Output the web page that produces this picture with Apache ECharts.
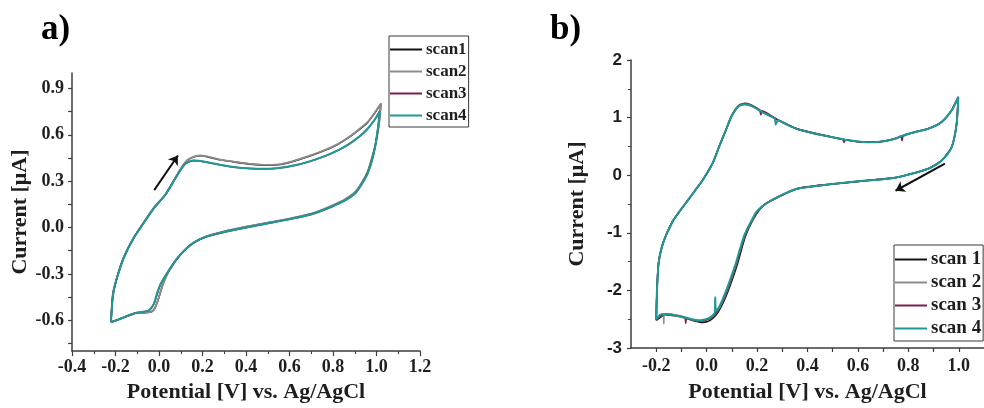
<!DOCTYPE html>
<html>
<head>
<meta charset="utf-8">
<script src="https://cdn.jsdelivr.net/npm/echarts@6/dist/echarts.min.js"></script>
<style>
  html, body { margin: 0; padding: 0; background: #fff; }
  #chart { width: 984px; height: 408px; }
</style>
</head>
<body>
<div id="chart"></div>
<script>
// ---- Panel a: cyclic voltammograms, [potential V, current µA] ----
const aScan1 = [
  [-0.221,-0.612],[-0.212,-0.43],[-0.193,-0.323],[-0.163,-0.196],[-0.117,-0.068],[-0.071,0.03],
  [-0.025,0.124],[0.029,0.211],[0.083,0.339],[0.11,0.4],[0.13,0.434],[0.155,0.455],[0.19,0.464],
  [0.23,0.455],[0.282,0.438],[0.35,0.423],[0.42,0.41],[0.5,0.403],[0.56,0.408],[0.635,0.436],
  [0.7,0.466],[0.76,0.498],[0.819,0.536],[0.87,0.58],[0.91,0.622],[0.957,0.677],[0.99,0.737],[1.02,0.8],
  [1.015,0.72],[1.007,0.63],[0.994,0.53],[0.979,0.45],[0.959,0.36],[0.93,0.283],[0.9,0.226],
  [0.85,0.176],[0.8,0.143],[0.75,0.114],[0.7,0.089],[0.6,0.057],[0.5,0.031],[0.4,0.004],[0.3,-0.026],
  [0.221,-0.056],[0.16,-0.096],[0.129,-0.131],[0.09,-0.19],[0.06,-0.25],[0.035,-0.31],[0.015,-0.38],
  [0.0,-0.45],[-0.015,-0.51],[-0.03,-0.542],[-0.05,-0.55],[-0.101,-0.552],[-0.163,-0.583],[-0.221,-0.612]
];
const aScan2 = [
  [-0.221,-0.612],[-0.212,-0.43],[-0.193,-0.323],[-0.163,-0.195],[-0.117,-0.067],[-0.071,0.03],
  [-0.025,0.126],[0.029,0.212],[0.083,0.34],[0.11,0.401],[0.13,0.435],[0.155,0.456],[0.19,0.466],
  [0.23,0.457],[0.282,0.44],[0.35,0.425],[0.42,0.412],[0.5,0.405],[0.56,0.41],[0.635,0.438],
  [0.7,0.468],[0.76,0.5],[0.819,0.538],[0.87,0.582],[0.91,0.625],[0.957,0.68],[0.99,0.74],[1.021,0.804],
  [1.016,0.72],[1.008,0.63],[0.995,0.53],[0.98,0.45],[0.96,0.36],[0.93,0.285],[0.9,0.228],
  [0.85,0.178],[0.8,0.145],[0.75,0.115],[0.7,0.09],[0.6,0.058],[0.5,0.032],[0.4,0.005],[0.3,-0.025],
  [0.221,-0.055],[0.16,-0.095],[0.129,-0.13],[0.09,-0.19],[0.06,-0.25],[0.035,-0.31],[0.015,-0.38],
  [0.0,-0.45],[-0.015,-0.51],[-0.03,-0.543],[-0.05,-0.55],[-0.101,-0.552],[-0.163,-0.584],[-0.221,-0.612]
];
const aScan3 = [
  [-0.221,-0.614],[-0.212,-0.444],[-0.193,-0.325],[-0.163,-0.2],[-0.117,-0.07],[-0.071,0.028],
  [-0.025,0.122],[0.029,0.211],[0.083,0.336],[0.121,0.411],[0.159,0.433],[0.205,0.426],[0.282,0.405],
  [0.359,0.388],[0.451,0.379],[0.543,0.383],[0.635,0.405],[0.727,0.443],[0.819,0.496],[0.896,0.561],
  [0.957,0.635],[0.998,0.711],[1.014,0.752],
  [1.006,0.636],[0.985,0.465],[0.955,0.336],[0.9,0.217],[0.8,0.137],[0.7,0.085],[0.6,0.053],
  [0.5,0.026],[0.4,-0.001],[0.3,-0.03],[0.22,-0.059],[0.16,-0.1],[0.1,-0.173],[0.052,-0.263],
  [0.006,-0.371],[-0.022,-0.49],[-0.048,-0.538],[-0.101,-0.551],[-0.163,-0.582],[-0.221,-0.614]
];
const aScan4 = [
  [-0.221,-0.614],[-0.217,-0.53],[-0.212,-0.445],[-0.204,-0.38],[-0.193,-0.325],[-0.178,-0.26],
  [-0.163,-0.2],[-0.14,-0.13],[-0.117,-0.07],[-0.094,-0.02],[-0.071,0.028],[-0.048,0.076],
  [-0.025,0.122],[0.0,0.165],[0.029,0.212],[0.056,0.272],[0.083,0.337],[0.105,0.386],[0.121,0.412],
  [0.14,0.428],[0.159,0.434],[0.18,0.432],[0.205,0.427],[0.245,0.416],[0.282,0.406],[0.32,0.397],
  [0.359,0.389],[0.405,0.383],[0.451,0.38],[0.497,0.38],[0.543,0.384],[0.59,0.393],[0.635,0.406],
  [0.68,0.423],[0.727,0.444],[0.773,0.468],[0.819,0.497],[0.86,0.528],[0.896,0.562],[0.93,0.598],
  [0.957,0.636],[0.98,0.675],[0.998,0.712],[1.015,0.754],
  [1.012,0.7],[1.006,0.637],[0.997,0.55],[0.985,0.466],[0.972,0.4],[0.955,0.337],[0.93,0.275],
  [0.9,0.218],[0.85,0.17],[0.8,0.138],[0.75,0.11],[0.7,0.086],[0.65,0.068],[0.6,0.054],[0.55,0.04],
  [0.5,0.027],[0.45,0.013],[0.4,0.0],[0.35,-0.014],[0.3,-0.029],[0.25,-0.046],[0.22,-0.058],
  [0.19,-0.075],[0.16,-0.099],[0.129,-0.133],[0.1,-0.172],[0.075,-0.215],[0.052,-0.262],[0.03,-0.312],
  [0.006,-0.37],[-0.01,-0.43],[-0.022,-0.49],[-0.035,-0.522],[-0.048,-0.538],[-0.075,-0.546],
  [-0.101,-0.551],[-0.13,-0.563],[-0.163,-0.582],[-0.19,-0.598],[-0.221,-0.614]
];
const aArrow = [[-0.022, 0.242], [0.087, 0.466]];

// ---- Panel b ----
const bScan1 = [
  [-0.2,-2.52],[-0.197,-2.0],[-0.191,-1.54],[-0.178,-1.25],[-0.158,-1.01],[-0.132,-0.78],[-0.094,-0.55],
  [-0.055,-0.32],[-0.016,-0.085],[0.023,0.2],[0.049,0.49],[0.076,0.78],[0.101,1.05],[0.127,1.21],
  [0.154,1.25],[0.179,1.215],[0.218,1.11],[0.283,0.96],[0.361,0.8],[0.491,0.667],[0.621,0.574],
  [0.686,0.58],[0.751,0.64],[0.816,0.738],[0.881,0.812],[0.933,0.93],[0.972,1.13],[0.998,1.36],
  [0.991,0.88],[0.972,0.49],[0.933,0.26],[0.881,0.115],[0.816,0.028],[0.751,-0.042],[0.621,-0.1],
  [0.491,-0.158],[0.361,-0.234],[0.257,-0.44],[0.218,-0.555],[0.183,-0.78],[0.153,-1.07],[0.122,-1.54],
  [0.096,-1.88],[0.07,-2.17],[0.045,-2.38],[0.025,-2.48],[0.004,-2.54],[-0.022,-2.555],[-0.048,-2.53],
  [-0.086,-2.48],[-0.125,-2.44],[-0.165,-2.42],[-0.2,-2.52]
];
const bScan2 = [
  [-0.2,-2.5],[-0.197,-2.0],[-0.191,-1.54],[-0.178,-1.25],[-0.158,-1.01],[-0.132,-0.78],[-0.094,-0.55],
  [-0.055,-0.32],[-0.016,-0.086],[0.023,0.2],[0.049,0.49],[0.076,0.78],[0.101,1.045],[0.127,1.205],
  [0.154,1.24],[0.179,1.21],[0.218,1.105],[0.283,0.958],[0.361,0.8],[0.491,0.667],[0.621,0.574],
  [0.686,0.58],[0.751,0.638],[0.816,0.737],[0.881,0.81],[0.933,0.928],[0.972,1.13],[0.998,1.35],
  [0.991,0.88],[0.972,0.49],[0.933,0.26],[0.881,0.116],[0.816,0.029],[0.751,-0.04],[0.621,-0.099],
  [0.491,-0.157],[0.361,-0.233],[0.257,-0.437],[0.218,-0.552],[0.181,-0.78],[0.15,-1.07],[0.118,-1.54],
  [0.092,-1.88],[0.066,-2.17],[0.041,-2.37],[0.022,-2.46],[0.004,-2.51],[-0.028,-2.53],[-0.067,-2.5],
  [-0.106,-2.46],[-0.145,-2.42],[-0.168,-2.41],[-0.17,-2.58],[-0.172,-2.42],[-0.2,-2.5]
];
const bScan3 = [
  [-0.2,-2.5],[-0.197,-2.0],[-0.191,-1.54],[-0.178,-1.25],[-0.158,-1.01],[-0.132,-0.78],[-0.094,-0.55],
  [-0.055,-0.32],[-0.016,-0.087],[0.023,0.2],[0.049,0.49],[0.076,0.78],[0.101,1.04],[0.127,1.2],
  [0.154,1.235],[0.179,1.205],[0.21,1.13],[0.215,1.05],[0.22,1.12],[0.283,0.957],[0.361,0.8],
  [0.491,0.667],[0.54,0.62],[0.545,0.57],[0.55,0.615],[0.621,0.574],[0.686,0.58],[0.751,0.638],
  [0.77,0.68],[0.775,0.6],[0.78,0.69],[0.816,0.736],[0.881,0.81],[0.933,0.927],[0.972,1.13],[0.998,1.35],
  [0.991,0.88],[0.972,0.49],[0.933,0.26],[0.881,0.116],[0.816,0.029],[0.751,-0.04],[0.621,-0.098],
  [0.491,-0.157],[0.361,-0.232],[0.257,-0.435],[0.218,-0.551],[0.18,-0.78],[0.149,-1.07],[0.117,-1.54],
  [0.09,-1.88],[0.064,-2.17],[0.039,-2.37],[0.02,-2.46],[0.004,-2.5],[-0.028,-2.53],[-0.067,-2.5],
  [-0.08,-2.48],[-0.083,-2.57],[-0.086,-2.47],[-0.125,-2.43],[-0.165,-2.41],[-0.2,-2.5]
];
const bScan4 = [
  [-0.2,-2.51],[-0.199,-2.25],[-0.197,-2.0],[-0.194,-1.75],[-0.191,-1.54],[-0.185,-1.38],[-0.178,-1.25],
  [-0.168,-1.12],[-0.158,-1.01],[-0.145,-0.9],[-0.132,-0.78],[-0.113,-0.66],[-0.094,-0.55],[-0.075,-0.44],
  [-0.055,-0.32],[-0.035,-0.2],[-0.016,-0.087],[0.003,0.05],[0.023,0.2],[0.036,0.34],[0.049,0.49],
  [0.062,0.635],[0.076,0.78],[0.088,0.92],[0.101,1.04],[0.114,1.13],[0.127,1.195],[0.14,1.222],
  [0.154,1.228],[0.166,1.22],[0.179,1.198],[0.198,1.155],[0.218,1.1],[0.25,1.03],[0.27,0.985],
  [0.274,0.88],[0.283,0.955],[0.32,0.875],[0.361,0.8],[0.426,0.725],[0.491,0.667],[0.556,0.612],
  [0.621,0.576],[0.65,0.57],[0.686,0.58],[0.72,0.603],[0.751,0.638],[0.78,0.69],[0.816,0.736],
  [0.85,0.772],[0.881,0.81],[0.91,0.86],[0.933,0.927],[0.955,1.03],[0.972,1.13],[0.986,1.24],[0.998,1.36],
  [0.996,1.12],[0.991,0.88],[0.983,0.67],[0.972,0.49],[0.955,0.36],[0.933,0.26],[0.91,0.18],[0.881,0.116],
  [0.85,0.068],[0.816,0.029],[0.785,-0.005],[0.751,-0.04],[0.7,-0.07],[0.621,-0.098],[0.556,-0.125],
  [0.491,-0.157],[0.426,-0.19],[0.361,-0.232],[0.309,-0.32],[0.257,-0.435],[0.218,-0.55],[0.195,-0.65],
  [0.179,-0.78],[0.162,-0.92],[0.147,-1.07],[0.131,-1.3],[0.115,-1.54],[0.1,-1.73],[0.088,-1.88],
  [0.075,-2.03],[0.062,-2.17],[0.05,-2.29],[0.037,-2.36],[0.034,-2.12],[0.032,-2.39],[0.02,-2.45],
  [0.004,-2.49],[-0.012,-2.51],[-0.028,-2.52],[-0.048,-2.51],[-0.067,-2.49],[-0.086,-2.47],[-0.106,-2.45],
  [-0.125,-2.43],[-0.145,-2.41],[-0.165,-2.41],[-0.184,-2.42],[-0.2,-2.51]
];
const bArrow = [[0.945, 0.2], [0.749, -0.27]];

// ---- Axis ticks and labels ----
const aXLabels = [-0.4, -0.2, 0.0, 0.2, 0.4, 0.6, 0.8, 1.0, 1.2];
const aYLabels = [-0.6, -0.3, 0.0, 0.3, 0.6, 0.9];
const aYTicks = [-0.75, -0.6, -0.45, -0.3, -0.15, 0.0, 0.15, 0.3, 0.45, 0.6, 0.75, 0.9];
const bXLabels = [-0.2, 0.0, 0.2, 0.4, 0.6, 0.8, 1.0];
const bXTicks = [-0.2, -0.1, 0.0, 0.1, 0.2, 0.3, 0.4, 0.5, 0.6, 0.7, 0.8, 0.9, 1.0];
const bYLabels = [-3, -2, -1, 0, 1, 2];

const aNames = ['scan1', 'scan2', 'scan3', 'scan4'];
const bNames = ['scan 1', 'scan 2', 'scan 3', 'scan 4'];
const scanColors = ['#111111', '#8c8c8c', '#7a1d4c', '#1f9896'];

const SERIF = "'Liberation Serif', 'Times New Roman', serif";
const SANS = "'Liberation Sans', Arial, sans-serif";
const AXIS_COLOR = '#3c3c3c';
const TEXT_COLOR = '#1e1e1e';

function axisBase(extra) {
  return Object.assign({
    type: 'value',
    axisLine: { show: true, onZero: false, lineStyle: { color: AXIS_COLOR, width: 1.5 } },
    splitLine: { show: false },
    nameLocation: 'middle',
    nameTextStyle: { fontFamily: SERIF, fontWeight: 'bold', fontSize: 22, color: TEXT_COLOR }
  }, extra);
}

function scanLine(name, data, color, width, idx) {
  return {
    type: 'line', name, data,
    xAxisIndex: idx, yAxisIndex: idx,
    symbol: 'none', showSymbol: false, smooth: 0.2,
    lineStyle: { color, width },
    itemStyle: { color },
    emphasis: { disabled: true },
    animation: false
  };
}

function arrow(coords, idx) {
  return {
    type: 'lines', coordinateSystem: 'cartesian2d',
    xAxisIndex: idx, yAxisIndex: idx,
    symbol: ['none', 'arrow'], symbolSize: [0, 9],
    lineStyle: { color: '#111', width: 2, opacity: 1 },
    data: [{ coords }], z: 5, animation: false
  };
}

// Vertical boxed legend with short line swatches
function legendFor(names, left, top, fontSize, gap) {
  return {
    data: names, orient: 'vertical', left, top,
    icon: 'rect', itemWidth: 32, itemHeight: 2,
    padding: [5, 2, 3, 1], itemGap: gap,
    borderColor: '#3a3a3a', borderWidth: 1, selectedMode: false,
    textStyle: { fontFamily: SERIF, fontWeight: 'bold', fontSize, color: TEXT_COLOR, padding: [0, 0, 0, -1] }
  };
}

const oneDecimal = v => v.toFixed(1);
const tickLabel = (fam) => ({ fontFamily: fam, fontWeight: 'bold', fontSize: 18, color: TEXT_COLOR });

const option = {
  backgroundColor: '#fff',
  animation: false,
  grid: [
    { left: 72, top: 73, width: 348, height: 282 },
    { left: 631, top: 60, width: 359, height: 289 }
  ],
  xAxis: [
    axisBase({
      gridIndex: 0, min: -0.4, max: 1.2, interval: 0.2,
      axisTick: { show: true, length: 5, lineStyle: { color: AXIS_COLOR, width: 1.2 } },
      minorTick: { show: true, splitNumber: 2, length: 3, lineStyle: { color: AXIS_COLOR, width: 1 } },
      axisLabel: Object.assign(tickLabel(SERIF), { margin: 7, customValues: aXLabels, formatter: oneDecimal }),
      name: 'Potential [V] vs. Ag/AgCl', nameGap: 28
    }),
    axisBase({
      gridIndex: 1, min: -0.3, max: 1.1,
      axisTick: { show: true, length: 4, customValues: bXTicks, lineStyle: { color: AXIS_COLOR, width: 1.2 } },
      axisLabel: Object.assign(tickLabel(SERIF), { margin: 9, customValues: bXLabels, formatter: oneDecimal }),
      name: 'Potential [V] vs. Ag/AgCl', nameGap: 33
    })
  ],
  yAxis: [
    axisBase({
      gridIndex: 0, min: -0.8, max: 1.0,
      axisTick: { show: true, length: 4, customValues: aYTicks, lineStyle: { color: AXIS_COLOR, width: 1.2 } },
      axisLabel: Object.assign(tickLabel(SERIF), { margin: 8, customValues: aYLabels, formatter: oneDecimal }),
      name: 'Current [μA]', nameGap: 39
    }),
    axisBase({
      gridIndex: 1, min: -3, max: 2, interval: 1,
      axisTick: { show: true, length: 4, lineStyle: { color: AXIS_COLOR, width: 1.2 } },
      minorTick: { show: true, splitNumber: 2, length: 3, lineStyle: { color: AXIS_COLOR, width: 1 } },
      axisLabel: Object.assign(tickLabel(SANS), { fontSize: 17, margin: 9, customValues: bYLabels, formatter: v => String(v) }),
      name: 'Current [μA]', nameGap: 43
    })
  ],
  legend: [
    legendFor(aNames, 389, 36, 17, 5),
    legendFor(bNames, 894, 245, 19, 4)
  ],
  graphic: [
    { type: 'text', left: 41, top: 12, style: { text: 'a)', font: "bold 35px 'Liberation Serif', serif", fill: '#000' } },
    { type: 'text', left: 550, top: 12, style: { text: 'b)', font: "bold 35px 'Liberation Serif', serif", fill: '#000' } }
  ],
  series: [
    scanLine(aNames[0], aScan1, scanColors[0], 1.6, 0),
    scanLine(aNames[1], aScan2, scanColors[1], 1.8, 0),
    scanLine(aNames[2], aScan3, scanColors[2], 1.6, 0),
    scanLine(aNames[3], aScan4, scanColors[3], 2, 0),
    arrow(aArrow, 0),
    scanLine(bNames[0], bScan1, scanColors[0], 1.6, 1),
    scanLine(bNames[1], bScan2, scanColors[1], 1.6, 1),
    scanLine(bNames[2], bScan3, scanColors[2], 1.6, 1),
    scanLine(bNames[3], bScan4, scanColors[3], 2, 1),
    arrow(bArrow, 1)
  ]
};

const chart = echarts.init(document.getElementById('chart'), null, { renderer: 'canvas' });
chart.setOption(option);
</script>
</body>
</html>
